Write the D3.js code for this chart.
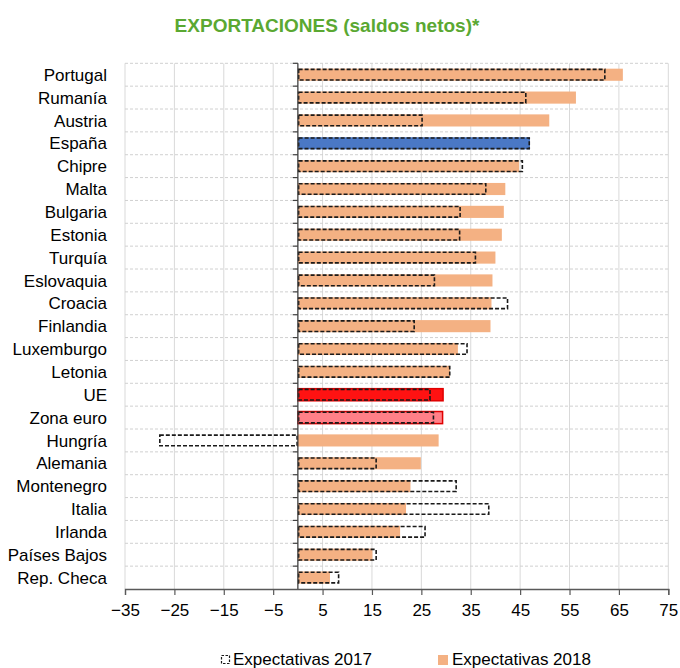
<!DOCTYPE html>
<html><head><meta charset="utf-8">
<script src="https://cdn.jsdelivr.net/npm/d3@7"></script>
<style>
html,body{margin:0;padding:0;background:#fff;}
svg{display:block;font-family:"Liberation Sans",Arial,sans-serif;}
</style></head>
<body>
<svg id="chart" width="680" height="668"></svg>
<script>
const categories = ["Portugal","Rumanía","Austria","España","Chipre","Malta","Bulgaria","Estonia","Turquía","Eslovaquia","Croacia","Finlandia","Luxemburgo","Letonia","UE","Zona euro","Hungría","Alemania","Montenegro","Italia","Irlanda","Países Bajos","Rep. Checa"];
const exp2017 = [62.3,46.3,25.3,47.0,45.6,38.2,33.0,32.9,36.1,27.8,42.6,23.7,34.4,30.9,26.9,27.6,-28.1,16.0,32.2,38.8,25.9,16.0,8.4];
const exp2018 = [65.8,56.3,50.9,47.0,44.8,42.0,41.7,41.3,40.0,39.4,39.2,39.0,32.4,30.8,29.4,29.3,28.5,24.9,22.8,21.9,20.7,15.1,6.5];
const xTicks = [-35,-25,-15,-5,5,15,25,35,45,55,65,75];
const seriesNames = ["Expectativas 2017","Expectativas 2018"];
const titleText = "EXPORTACIONES (saldos netos)*";

const svg = d3.select("#chart");
const x = d3.scaleLinear().domain([-35,75]).range([125,668.3]);
const pi = 0.47;
const y = d3.scaleBand().domain(categories).range([63.3,589]).paddingInner(pi).paddingOuter(pi/2);
const step = y.step();
const top0 = y.range()[0], bot0 = y.range()[1];

const highlight = {"España":{fill:"#4a78c6",stroke:null},"UE":{fill:"#ff1212",stroke:"#e00000"},"Zona euro":{fill:"#ff8088",stroke:"#e00000"}};
const orange = "#f4b183";

// title
svg.append("text").attr("x",327).attr("y",32).attr("text-anchor","middle")
  .attr("font-size",19).attr("font-weight","bold").attr("fill","#5aa832").text(titleText);

// vertical gridlines
svg.append("g").selectAll("line").data(xTicks).join("line")
  .attr("x1",d=>x(d)).attr("x2",d=>x(d)).attr("y1",top0).attr("y2",bot0)
  .attr("stroke","#d9d9d9").attr("stroke-width",1);

// horizontal dashed gridlines at row boundaries
const bounds = d3.range(categories.length).map(i=>top0+i*step);
svg.append("g").selectAll("line").data(bounds).join("line")
  .attr("x1",x(-35)).attr("x2",x(75)).attr("y1",d=>d).attr("y2",d=>d)
  .attr("stroke","#d0d0d0").attr("stroke-width",1).attr("stroke-dasharray","3,2");

// 2018 bars
svg.append("g").selectAll("rect").data(categories).join("rect")
  .attr("x",(d,i)=>x(Math.min(0,exp2018[i])))
  .attr("width",(d,i)=>Math.abs(x(exp2018[i])-x(0)))
  .attr("y",d=>y(d)).attr("height",y.bandwidth())
  .attr("fill",d=>highlight[d]?highlight[d].fill:orange)
  .attr("stroke",d=>highlight[d]&&highlight[d].stroke?highlight[d].stroke:"none")
  .attr("stroke-width",1.5);

// 2017 dashed outlines
svg.append("g").selectAll("rect").data(categories).join("rect")
  .attr("x",(d,i)=>x(Math.min(0,exp2017[i]))+0.75)
  .attr("width",(d,i)=>Math.abs(x(exp2017[i])-x(0))-1.5)
  .attr("y",d=>y(d)+0.75).attr("height",y.bandwidth()-1.5)
  .attr("fill","none").attr("stroke","#1a1a1a").attr("stroke-width",1.6)
  .attr("stroke-dasharray","4,2");

// y axis at zero
svg.append("line").attr("x1",x(0)).attr("x2",x(0)).attr("y1",top0).attr("y2",bot0)
  .attr("stroke","#404040").attr("stroke-width",1.3);
svg.append("g").selectAll("line").data(bounds).join("line")
  .attr("x1",x(0)-5).attr("x2",x(0)).attr("y1",d=>d).attr("y2",d=>d)
  .attr("stroke","#404040").attr("stroke-width",1.2);

// x axis
const xAxis = d3.axisBottom(x).tickValues(xTicks).tickSize(6).tickPadding(6).tickFormat(d3.format("d"));
const gx = svg.append("g").attr("transform",`translate(0,${bot0})`).call(xAxis);
gx.select(".domain").attr("stroke","#595959").attr("stroke-width",1.3);
gx.selectAll(".tick line").attr("stroke","#595959").attr("stroke-width",1.2);
gx.selectAll(".tick text").attr("font-size",17).attr("font-family","Liberation Sans, Arial, sans-serif").attr("fill","#000").attr("dy","0.9em");

// category labels
svg.append("g").selectAll("text").data(categories).join("text")
  .attr("x",107).attr("y",d=>y(d)+y.bandwidth()/2).attr("dy","0.36em")
  .attr("text-anchor","end").attr("font-size",17).attr("fill","#000").text(d=>d);

// legend
const lg = svg.append("g");
lg.append("rect").attr("x",221.5).attr("y",655.5).attr("width",8).attr("height",8)
  .attr("fill","none").attr("stroke","#1a1a1a").attr("stroke-width",1.2).attr("stroke-dasharray","2.5,1.5");
lg.append("text").attr("x",233).attr("y",665).attr("font-size",17).attr("fill","#000").text(seriesNames[0]);
lg.append("rect").attr("x",438).attr("y",655).attr("width",10).attr("height",10).attr("fill",orange);
lg.append("text").attr("x",452).attr("y",665).attr("font-size",17).attr("fill","#000").text(seriesNames[1]);
</script>
</body></html>
